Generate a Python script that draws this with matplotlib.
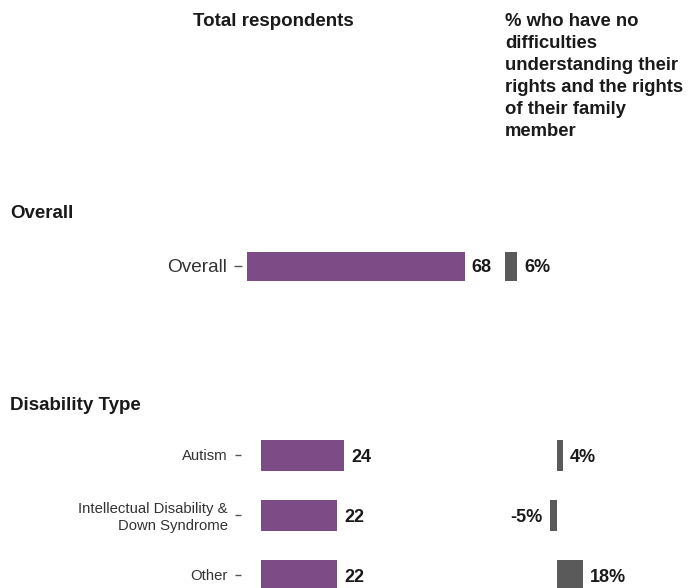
import matplotlib
matplotlib.use('Agg')
import matplotlib.pyplot as plt

plt.rcParams['font.family'] = ['Liberation Sans', 'DejaVu Sans']

# data
overall_labels = ['Overall']
overall_total = [68]
overall_pct = [6]

dis_labels = ['Autism', 'Intellectual Disability &\nDown Syndrome', 'Other']
dis_total = [24, 22, 22]
dis_pct = [4, -5, 18]

header_lines = ['% who have no', 'difficulties', 'understanding their',
                'rights and the rights', 'of their family', 'member']

PURPLE = '#7D4B86'
GREY = '#5A5A5A'
TICK = '#555555'

W, H = 688, 588
fig = plt.figure(figsize=(W / 100, H / 100), dpi=100)


def px_axes(left, top, width, height):
    """axes from pixel box (top-left origin)"""
    return fig.add_axes([left / W, (H - top - height) / H, width / W, height / H])


def panel(labels, values, zero_px, scale, axis_px, right_px, top, row_h, bar_h,
          label_size, tick_len, fmt, show_ticks, color):
    n = len(labels)
    ax = px_axes(axis_px, top, right_px - axis_px, n * row_h)
    ax.set_xlim(-(zero_px - axis_px) / scale, (right_px - zero_px) / scale)
    ax.set_ylim(n - 0.5, -0.5)
    ys = list(range(n))
    ax.barh(ys, values, height=bar_h / row_h, color=color, linewidth=0)
    for y, v in zip(ys, values):
        ax.annotate(fmt.format(v), xy=(v, y), xytext=(5 if v >= 0 else -5, 0),
                    textcoords='offset points', va='center_baseline',
                    ha='left' if v >= 0 else 'right', annotation_clip=False,
                    fontsize=13, fontweight='bold', color='#1a1a1a')
    for s in ax.spines.values():
        s.set_visible(False)
    ax.set_xticks([])
    ax.patch.set_alpha(0)
    if show_ticks:
        ax.set_yticks(ys)
        ax.set_yticklabels(labels, fontsize=label_size, color='#333333',
                           ha='right', multialignment='right')
        ax.tick_params(axis='y', length=tick_len, width=1, color=TICK, pad=5)
    else:
        ax.set_yticks([])
    return ax


# total respondents panels
panel(overall_labels, overall_total, zero_px=247, scale=3.2, axis_px=242,
      right_px=470, top=236, row_h=60, bar_h=29, label_size=13.7, tick_len=6,
      fmt='{}', show_ticks=True, color=PURPLE)
panel(dis_labels, dis_total, zero_px=261, scale=3.46, axis_px=241,
      right_px=470, top=425, row_h=60, bar_h=31, label_size=10.7, tick_len=4.5,
      fmt='{}', show_ticks=True, color=PURPLE)

# percentage panels
panel(overall_labels, overall_pct, zero_px=505, scale=2.0, axis_px=480,
      right_px=640, top=236, row_h=60, bar_h=29, label_size=13, tick_len=0,
      fmt='{}%', show_ticks=False, color=GREY)
panel(dis_labels, dis_pct, zero_px=557, scale=1.45, axis_px=500,
      right_px=640, top=425, row_h=60, bar_h=31, label_size=10.7, tick_len=0,
      fmt='{}%', show_ticks=False, color=GREY)

# headers and section titles
fig.text(193 / W, 1 - 22 / H, 'Total respondents', fontsize=13.5,
         fontweight='bold', va='center', ha='left', color='#1a1a1a')
for i, line in enumerate(header_lines):
    fig.text(505 / W, 1 - (22 + 22 * i) / H, line, fontsize=13.3,
             fontweight='bold', va='center', ha='left', color='#1a1a1a')
fig.text(10 / W, 1 - 213 / H, 'Overall', fontsize=13.5, fontweight='bold',
         va='center', ha='left', color='#1a1a1a')
fig.text(10 / W, 1 - 406 / H, 'Disability Type', fontsize=13.5,
         fontweight='bold', va='center', ha='left', color='#1a1a1a')

fig.savefig('out.png', dpi=100)
